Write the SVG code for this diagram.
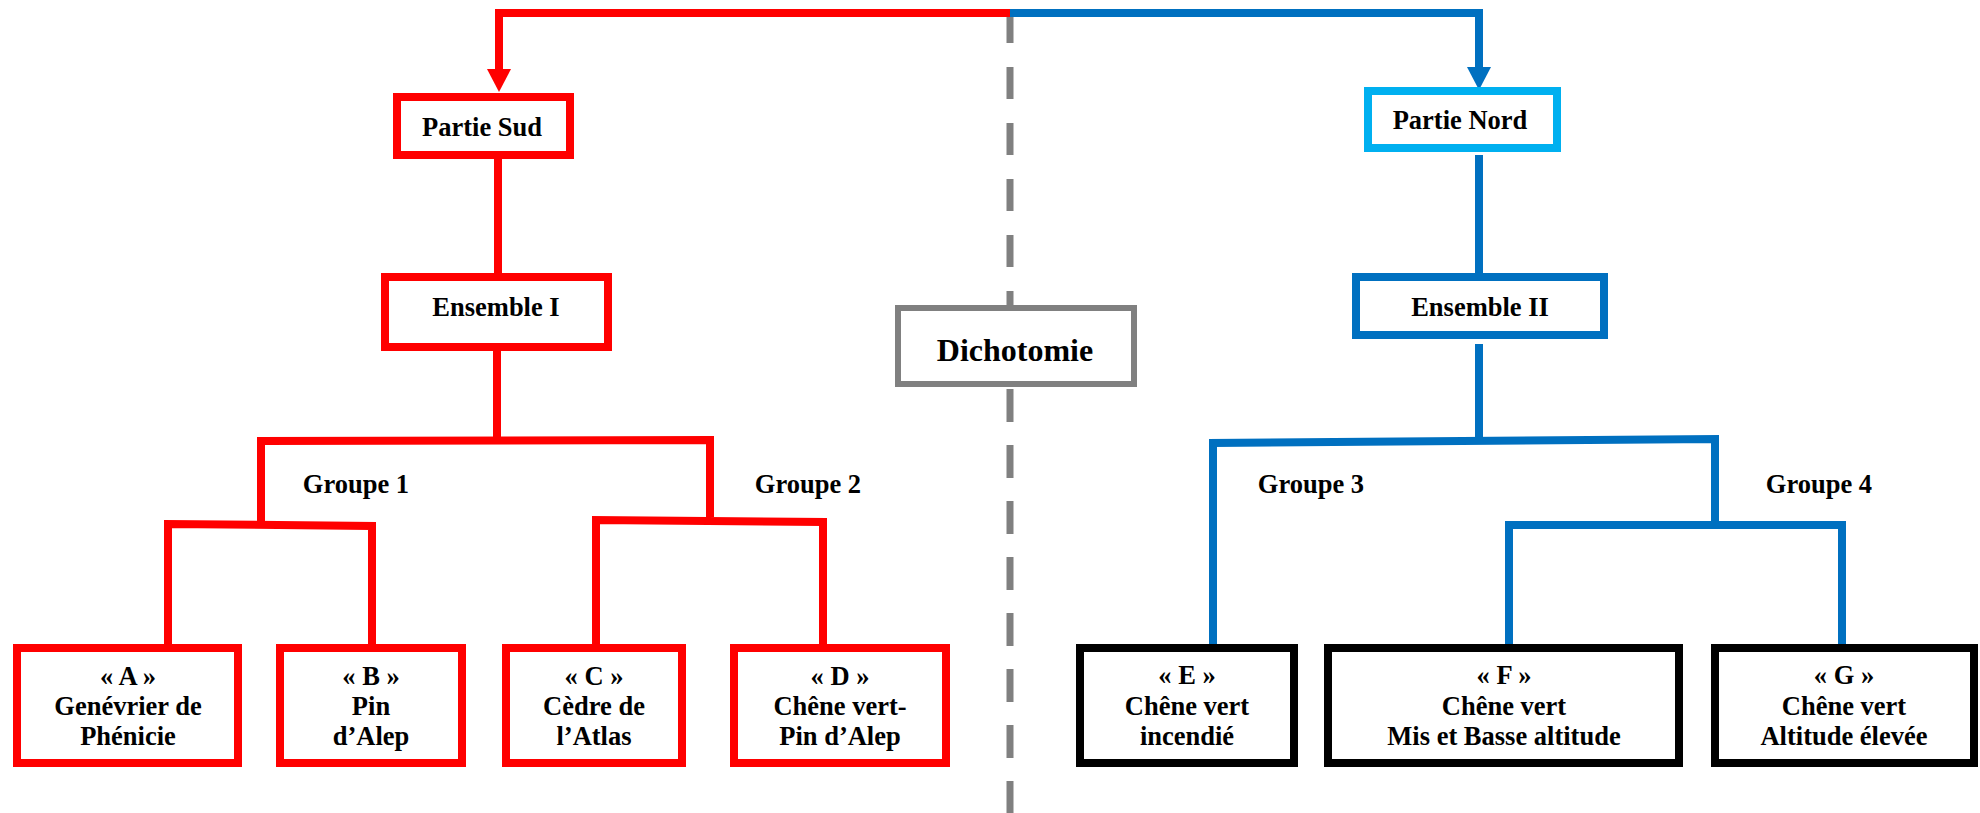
<svg xmlns="http://www.w3.org/2000/svg" width="1980" height="813" viewBox="0 0 1980 813">
<style>
text{font-family:"Liberation Serif","Times New Roman",serif;font-weight:bold;font-size:26.5px;text-anchor:middle;fill:#000}
.box{fill:#fff;stroke-width:8}
.red{stroke:#FF0000}
.blue{stroke:#0070C0}
.lblue{stroke:#00B0F0}
.blk{stroke:#000}
.conn{fill:none;stroke-width:8;stroke-linejoin:miter;stroke-linecap:butt}
.dash{fill:none;stroke:#808080;stroke-width:7}
</style>
<defs>
<marker id="arR" markerUnits="userSpaceOnUse" markerWidth="23" markerHeight="24" viewBox="0 0 23 24" refX="0" refY="12" orient="auto"><path d="M0,0 L23,12 L0,24 z" fill="#FF0000"/></marker>
<marker id="arB" markerUnits="userSpaceOnUse" markerWidth="23" markerHeight="24" viewBox="0 0 23 24" refX="0" refY="12" orient="auto"><path d="M0,0 L23,12 L0,24 z" fill="#0070C0"/></marker>
</defs>
<rect width="1980" height="813" fill="#fff"/>
<g id="separator">
<line class="dash" x1="1010" y1="11" x2="1010" y2="305" stroke-dasharray="32 24"/>
<line class="dash" x1="1010" y1="389" x2="1010" y2="813" stroke-dasharray="33 23"/>
</g>
<g id="connectors">
<path class="conn red" d="M1010 13 H499 V69" marker-end="url(#arR)"/>
<path class="conn blue" d="M1010 13 H1479 V67" marker-end="url(#arB)"/>
<path class="conn red" d="M498 159 V273"/>
<path class="conn red" d="M497 351 V441"/>
<path class="conn red" d="M261 521 V441 L710 440 V517"/>
<path class="conn red" d="M168 644 V524 L372 526 V644"/>
<path class="conn red" d="M596 644 V520 L823 522 V644"/>
<path class="conn blue" d="M1479 155 V273"/>
<path class="conn blue" d="M1479 344 V441"/>
<path class="conn blue" d="M1213 644 V443 L1715 439 V522"/>
<path class="conn blue" d="M1509 644 V525 H1842 V644"/>
</g>
<g id="partie-sud"><rect class="box red" x="397" y="97" width="173" height="58"/><text x="482" y="136">Partie Sud</text></g>
<g id="partie-nord"><rect class="box lblue" x="1368" y="91" width="189" height="57"/><text x="1460" y="129">Partie Nord</text></g>
<g id="ensemble-1"><rect class="box red" x="385" y="277" width="223" height="70"/><text x="496" y="316">Ensemble I</text></g>
<g id="ensemble-2"><rect class="box blue" x="1356" y="277" width="248" height="58"/><text x="1480" y="316">Ensemble II</text></g>
<g id="dichotomie"><rect class="box" style="stroke:#808080;stroke-width:6" x="898" y="308" width="236" height="76"/><text x="1015" y="361" style="font-size:32px">Dichotomie</text></g>
<g id="groupe-1"><text x="356" y="493">Groupe 1</text></g>
<g id="groupe-2"><text x="808" y="493">Groupe 2</text></g>
<g id="groupe-3"><text x="1311" y="493">Groupe 3</text></g>
<g id="groupe-4"><text x="1819" y="493">Groupe 4</text></g>
<g id="node-a"><rect class="box red" x="17" y="648" width="221" height="115"/><text x="128" y="685">« A »</text><text x="128" y="715">Genévrier de</text><text x="128" y="745">Phénicie</text></g>
<g id="node-b"><rect class="box red" x="280" y="648" width="182" height="115"/><text x="371" y="685">« B »</text><text x="371" y="715">Pin</text><text x="371" y="745">d’Alep</text></g>
<g id="node-c"><rect class="box red" x="506" y="648" width="176" height="115"/><text x="594" y="685">« C »</text><text x="594" y="715">Cèdre de</text><text x="594" y="745">l’Atlas</text></g>
<g id="node-d"><rect class="box red" x="734" y="648" width="212" height="115"/><text x="840" y="685">« D »</text><text x="840" y="715">Chêne vert-</text><text x="840" y="745">Pin d’Alep</text></g>
<g id="node-e"><rect class="box blk" x="1080" y="648" width="214" height="115"/><text x="1187" y="684">« E »</text><text x="1187" y="715">Chêne vert</text><text x="1187" y="745">incendié</text></g>
<g id="node-f"><rect class="box blk" x="1328" y="648" width="351" height="115"/><text x="1504" y="684">« F »</text><text x="1504" y="715">Chêne vert</text><text x="1504" y="745">Mis et Basse altitude</text></g>
<g id="node-g"><rect class="box blk" x="1715" y="648" width="259" height="115"/><text x="1844" y="684">« G »</text><text x="1844" y="715">Chêne vert</text><text x="1844" y="745">Altitude élevée</text></g>
</svg>
